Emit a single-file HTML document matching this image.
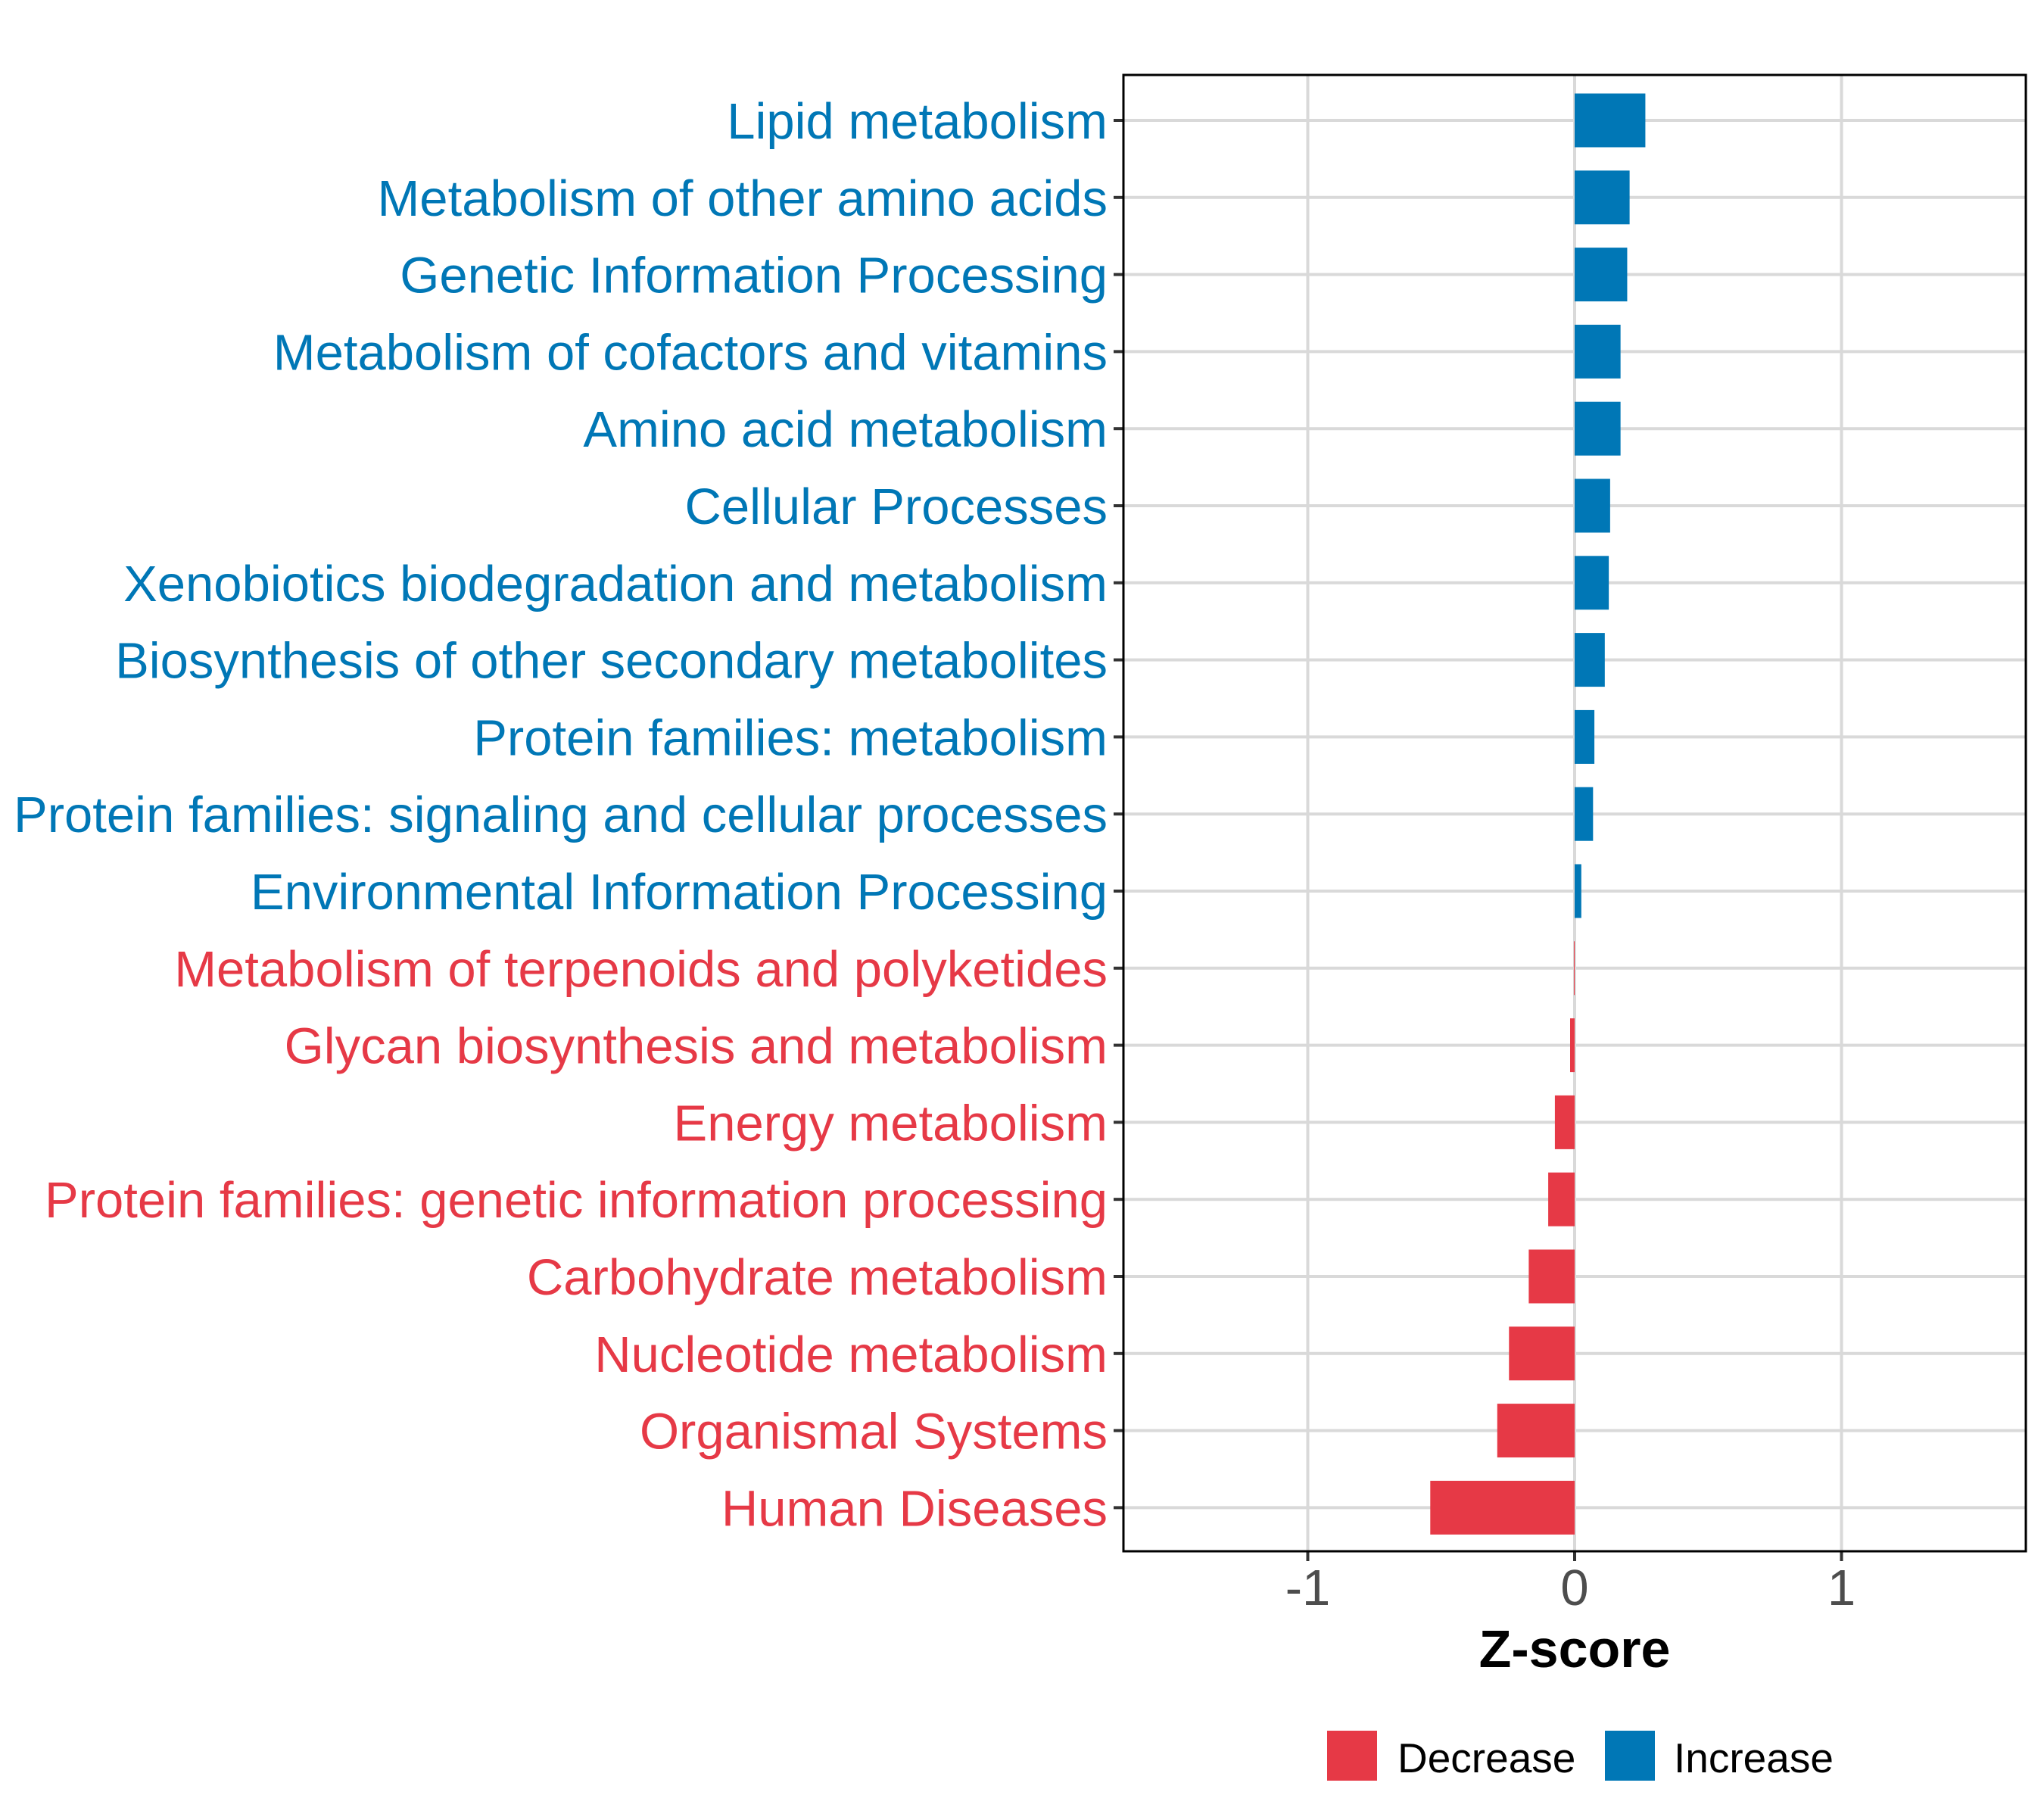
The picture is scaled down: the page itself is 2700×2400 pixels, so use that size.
<!DOCTYPE html>
<html><head><meta charset="utf-8"><style>
html,body{margin:0;padding:0;background:#fff;}
svg{display:block;font-family:"Liberation Sans",Arial,sans-serif;}
</style></head><body>
<svg id="chart" width="2700" height="2400" viewBox="0 0 2700 2400" xmlns="http://www.w3.org/2000/svg">
<rect x="0" y="0" width="2700" height="2400" fill="#fff"/>
<g id="grid"></g>
<g id="bars"></g>
<g id="ylabels"></g>
<g id="xaxis"></g>
<rect x="1484" y="99" width="1192" height="1950" fill="none" stroke="#000" stroke-width="3"/>
<text x="2080" y="2202" text-anchor="middle" font-size="70" font-weight="bold" fill="#000">Z-score</text>
<g>
<rect x="1753" y="2286" width="66" height="66" fill="#E63946"/>
<text x="1846" y="2341" font-size="55" fill="#000">Decrease</text>
<rect x="2120" y="2286" width="66" height="66" fill="#0077B6"/>
<text x="2211" y="2341" font-size="55" fill="#000">Increase</text>
</g>
</svg>
<script>
const categories = ["Lipid metabolism","Metabolism of other amino acids","Genetic Information Processing","Metabolism of cofactors and vitamins","Amino acid metabolism","Cellular Processes","Xenobiotics biodegradation and metabolism","Biosynthesis of other secondary metabolites","Protein families: metabolism","Protein families: signaling and cellular processes","Environmental Information Processing","Metabolism of terpenoids and polyketides","Glycan biosynthesis and metabolism","Energy metabolism","Protein families: genetic information processing","Carbohydrate metabolism","Nucleotide metabolism","Organismal Systems","Human Diseases"];
const zscores = [0.265,0.206,0.197,0.172,0.172,0.133,0.128,0.113,0.074,0.069,0.025,-0.003,-0.017,-0.074,-0.099,-0.172,-0.246,-0.29,-0.541];
const xTicks = [-1,0,1];
const xTickLabels = ["-1","0","1"];

const NS="http://www.w3.org/2000/svg";
const pL=1484,pR=2676,pT=99,pB=2049;
function xs(v){return 2080+v*352.5;}
function ys(i){return 159+i*101.8;}
function mk(t,a,p){const e=document.createElementNS(NS,t);for(const k in a)e.setAttribute(k,a[k]);p.appendChild(e);return e;}
const grid=document.getElementById('grid'),bars=document.getElementById('bars'),yl=document.getElementById('ylabels'),xa=document.getElementById('xaxis');
xTicks.forEach((t,i)=>{
  const g=mk('line',{x1:xs(t),x2:xs(t),y1:pT,y2:pB,stroke:'#d9d9d9','stroke-width':4},grid);
  
  
  const tk=mk('line',{x1:xs(t),x2:xs(t),y1:pB,y2:pB+13,stroke:'#333','stroke-width':4},xa);
  
  
  const tl=mk('text',{x:xs(t),y:2120,'text-anchor':'middle','font-size':67,fill:'#4d4d4d'},xa);
  tl.textContent=xTickLabels[i];
  
  
});
categories.forEach((c,i)=>{
  const y=ys(i);
  const g=mk('line',{x1:pL,x2:pR,y1:y,y2:y,stroke:'#d9d9d9','stroke-width':4},grid);
  
  
  const v=zscores[i];
  const col=v>=0?'#0077B6':'#E63946';
  const x0=Math.min(xs(0),xs(v)),w=Math.max(Math.abs(xs(v)-xs(0)),1);
  const b=mk('rect',{x:x0,y:y-35.5,width:w,height:71,fill:col},bars);
  
  
  const tk=mk('line',{x1:pL-13,x2:pL,y1:y,y2:y,stroke:'#333','stroke-width':4},yl);
  
  
  const t=mk('text',{x:1463,y:y+24,'text-anchor':'end','font-size':67,fill:col},yl);
  t.textContent=c;
  
  
});
</script>
</body></html>
